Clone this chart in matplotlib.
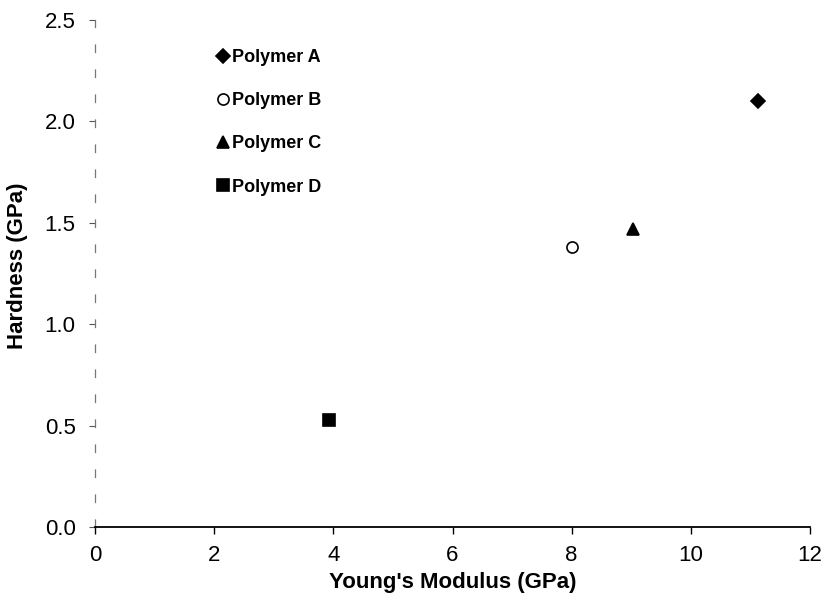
import matplotlib.pyplot as plt

plt.rcParams['font.family'] = ['Liberation Sans', 'DejaVu Sans']

# Data
polymers = ['Polymer A', 'Polymer B', 'Polymer C', 'Polymer D']
modulus = [11.12, 8.01, 9.03, 3.93]      # Young's modulus (GPa)
hardness = [2.10, 1.38, 1.47, 0.53]     # Hardness (GPa)
markers = ['D', 'o', '^', 's']
fills = ['black', 'white', 'black', 'black']
sizes = [7, 8, 9, 9]

fig = plt.figure(figsize=(8.25, 6.02), dpi=100)
ax = fig.add_axes([0.1152, 0.1246, 0.8666, 0.842])

for name, x, y, m, fc, s in zip(polymers, modulus, hardness, markers, fills, sizes):
    ax.plot([x], [y], linestyle='none', marker=m, markersize=s,
            markerfacecolor=fc, markeredgecolor='black', markeredgewidth=1.2,
            label=name)

ax.set_xlim(0, 12)
ax.set_ylim(0, 2.5)
ax.set_xticks([0, 2, 4, 6, 8, 10, 12])
ax.set_yticks([0.0, 0.5, 1.0, 1.5, 2.0, 2.5])
ax.set_yticklabels(['0.0', '0.5', '1.0', '1.5', '2.0', '2.5'])
ax.tick_params(axis='both', labelsize=16, direction='out', length=5, width=1, pad=8)
ax.tick_params(axis='y', length=4, width=0.8, colors='#555555', labelcolor='black', pad=10)

ax.spines['top'].set_visible(False)
ax.spines['right'].set_visible(False)
ax.spines['bottom'].set_linewidth(1.3)
ax.spines['left'].set_linewidth(0.9)
ax.spines['left'].set_color('#777777')
ax.spines['left'].set_linestyle((0, (6, 14)))

ax.set_xlabel("Young's Modulus (GPa)", fontsize=16, fontweight='bold', labelpad=4)
ax.set_ylabel('Hardness (GPa)', fontsize=16, fontweight='bold')
ax.yaxis.set_label_coords(-0.094, 0.515)

leg = ax.legend(loc='upper left', bbox_to_anchor=(0.148, 0.975), frameon=False,
                handlelength=0.6, handletextpad=0.25, labelspacing=1.45,
                prop={'weight': 'bold', 'size': 13})

fig.savefig('out.png', dpi=100)
